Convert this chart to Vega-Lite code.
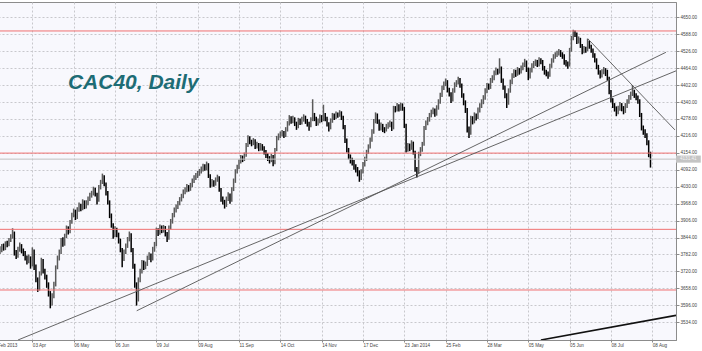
{
  "$schema": "https://vega.github.io/schema/vega-lite/v6.json",
  "autosize": {"type": "none"},
  "padding": {"left": -9, "top": 2, "right": 26, "bottom": 11},
  "width": 685,
  "height": 338,
  "background": "#ffffff",
  "config": {
    "view": {"stroke": "#8c8c8c", "strokeWidth": 1, "fill": "#f8f8fd"},
    "axis": {
      "labelFont": "Liberation Sans", "labelFontSize": 4.6, "labelColor": "#444444",
      "domainColor": "#8c8c8c", "tickColor": "#8c8c8c", "tickSize": 3,
      "gridColor": "#c8c8cc", "gridDash": [2, 2], "gridWidth": 1,
      "labelOverlap": false
    }
  },
  "datasets": {
    "candles": [
{"i":-3,"o":3778,"h":3795,"l":3770,"c":3785},
{"i":-2,"o":3785,"h":3808,"l":3778,"c":3800},
{"i":-1,"o":3800,"h":3810,"l":3782,"c":3792},
{"i":0,"o":3792,"h":3812,"l":3784,"c":3799},
{"i":1,"o":3799,"h":3820,"l":3790,"c":3812},
{"i":2,"o":3812,"h":3822,"l":3796,"c":3805},
{"i":3,"o":3805,"h":3830,"l":3798,"c":3822},
{"i":4,"o":3822,"h":3832,"l":3808,"c":3818},
{"i":5,"o":3818,"h":3842,"l":3812,"c":3836},
{"i":6,"o":3836,"h":3856,"l":3828,"c":3845},
{"i":7,"o":3845,"h":3878,"l":3840,"c":3862},
{"i":8,"o":3862,"h":3866,"l":3778,"c":3785},
{"i":9,"o":3785,"h":3798,"l":3765,"c":3776},
{"i":10,"o":3776,"h":3810,"l":3770,"c":3800},
{"i":11,"o":3800,"h":3826,"l":3792,"c":3815},
{"i":12,"o":3815,"h":3820,"l":3786,"c":3794},
{"i":13,"o":3794,"h":3804,"l":3776,"c":3788},
{"i":14,"o":3788,"h":3795,"l":3760,"c":3770},
{"i":15,"o":3770,"h":3778,"l":3745,"c":3758},
{"i":16,"o":3758,"h":3782,"l":3750,"c":3770},
{"i":17,"o":3770,"h":3775,"l":3730,"c":3742},
{"i":18,"o":3742,"h":3808,"l":3738,"c":3797},
{"i":19,"o":3797,"h":3800,"l":3725,"c":3738},
{"i":20,"o":3738,"h":3745,"l":3680,"c":3690},
{"i":21,"o":3690,"h":3698,"l":3645,"c":3655},
{"i":22,"o":3655,"h":3720,"l":3650,"c":3712},
{"i":23,"o":3712,"h":3770,"l":3705,"c":3760},
{"i":24,"o":3760,"h":3765,"l":3712,"c":3722},
{"i":25,"o":3722,"h":3730,"l":3690,"c":3700},
{"i":26,"o":3700,"h":3708,"l":3660,"c":3672},
{"i":27,"o":3672,"h":3680,"l":3628,"c":3640},
{"i":28,"o":3640,"h":3648,"l":3585,"c":3602},
{"i":29,"o":3602,"h":3640,"l":3595,"c":3630},
{"i":30,"o":3630,"h":3682,"l":3622,"c":3672},
{"i":31,"o":3672,"h":3742,"l":3665,"c":3735},
{"i":32,"o":3735,"h":3778,"l":3728,"c":3768},
{"i":33,"o":3768,"h":3800,"l":3760,"c":3790},
{"i":34,"o":3790,"h":3842,"l":3784,"c":3833},
{"i":35,"o":3833,"h":3845,"l":3810,"c":3820},
{"i":36,"o":3820,"h":3858,"l":3814,"c":3850},
{"i":37,"o":3850,"h":3888,"l":3842,"c":3878},
{"i":38,"o":3878,"h":3885,"l":3855,"c":3865},
{"i":39,"o":3865,"h":3908,"l":3860,"c":3900},
{"i":40,"o":3900,"h":3935,"l":3894,"c":3926},
{"i":41,"o":3926,"h":3950,"l":3918,"c":3940},
{"i":42,"o":3940,"h":3946,"l":3908,"c":3918},
{"i":43,"o":3918,"h":3955,"l":3912,"c":3945},
{"i":44,"o":3945,"h":3972,"l":3938,"c":3962},
{"i":45,"o":3962,"h":3968,"l":3940,"c":3950},
{"i":46,"o":3950,"h":3984,"l":3944,"c":3975},
{"i":47,"o":3975,"h":3980,"l":3948,"c":3958},
{"i":48,"o":3958,"h":3980,"l":3950,"c":3970},
{"i":49,"o":3970,"h":3994,"l":3962,"c":3984},
{"i":50,"o":3984,"h":4008,"l":3978,"c":3998},
{"i":51,"o":3998,"h":4015,"l":3990,"c":4005},
{"i":52,"o":4005,"h":4030,"l":3998,"c":4020},
{"i":53,"o":4020,"h":4026,"l":3994,"c":4002},
{"i":54,"o":4002,"h":4008,"l":3965,"c":3978},
{"i":55,"o":3978,"h":4036,"l":3975,"c":4028},
{"i":56,"o":4028,"h":4055,"l":4020,"c":4045},
{"i":57,"o":4045,"h":4078,"l":4040,"c":4066},
{"i":58,"o":4066,"h":4072,"l":4032,"c":4040},
{"i":59,"o":4040,"h":4045,"l":3998,"c":4008},
{"i":60,"o":4008,"h":4014,"l":3965,"c":3975},
{"i":61,"o":3975,"h":3980,"l":3915,"c":3925},
{"i":62,"o":3925,"h":3932,"l":3880,"c":3890},
{"i":63,"o":3890,"h":3896,"l":3840,"c":3852},
{"i":64,"o":3852,"h":3885,"l":3845,"c":3874},
{"i":65,"o":3874,"h":3880,"l":3845,"c":3855},
{"i":66,"o":3855,"h":3862,"l":3822,"c":3833},
{"i":67,"o":3833,"h":3840,"l":3790,"c":3800},
{"i":68,"o":3800,"h":3806,"l":3735,"c":3765},
{"i":69,"o":3765,"h":3800,"l":3758,"c":3790},
{"i":70,"o":3790,"h":3822,"l":3784,"c":3812},
{"i":71,"o":3812,"h":3846,"l":3806,"c":3838},
{"i":72,"o":3838,"h":3866,"l":3830,"c":3856},
{"i":73,"o":3856,"h":3860,"l":3790,"c":3800},
{"i":74,"o":3800,"h":3806,"l":3730,"c":3742},
{"i":75,"o":3742,"h":3748,"l":3660,"c":3672},
{"i":76,"o":3672,"h":3680,"l":3595,"c":3615},
{"i":77,"o":3615,"h":3698,"l":3610,"c":3688},
{"i":78,"o":3688,"h":3730,"l":3680,"c":3720},
{"i":79,"o":3720,"h":3762,"l":3712,"c":3754},
{"i":80,"o":3754,"h":3760,"l":3725,"c":3735},
{"i":81,"o":3735,"h":3756,"l":3728,"c":3746},
{"i":82,"o":3746,"h":3778,"l":3740,"c":3770},
{"i":83,"o":3770,"h":3790,"l":3762,"c":3780},
{"i":84,"o":3780,"h":3786,"l":3754,"c":3765},
{"i":85,"o":3765,"h":3810,"l":3760,"c":3800},
{"i":86,"o":3800,"h":3828,"l":3792,"c":3818},
{"i":87,"o":3818,"h":3880,"l":3812,"c":3870},
{"i":88,"o":3870,"h":3878,"l":3850,"c":3860},
{"i":89,"o":3860,"h":3892,"l":3854,"c":3882},
{"i":90,"o":3882,"h":3888,"l":3860,"c":3870},
{"i":91,"o":3870,"h":3890,"l":3862,"c":3880},
{"i":92,"o":3880,"h":3886,"l":3848,"c":3858},
{"i":93,"o":3858,"h":3864,"l":3828,"c":3842},
{"i":94,"o":3842,"h":3888,"l":3836,"c":3880},
{"i":95,"o":3880,"h":3912,"l":3874,"c":3902},
{"i":96,"o":3902,"h":3934,"l":3895,"c":3925},
{"i":97,"o":3925,"h":3954,"l":3918,"c":3944},
{"i":98,"o":3944,"h":3965,"l":3936,"c":3955},
{"i":99,"o":3955,"h":3978,"l":3948,"c":3970},
{"i":100,"o":3970,"h":3992,"l":3962,"c":3983},
{"i":101,"o":3983,"h":4004,"l":3976,"c":3995},
{"i":102,"o":3995,"h":4020,"l":3988,"c":4010},
{"i":103,"o":4010,"h":4028,"l":4002,"c":4018},
{"i":104,"o":4018,"h":4040,"l":4010,"c":4030},
{"i":105,"o":4030,"h":4036,"l":4012,"c":4022},
{"i":106,"o":4022,"h":4044,"l":4015,"c":4034},
{"i":107,"o":4034,"h":4060,"l":4028,"c":4050},
{"i":108,"o":4050,"h":4072,"l":4044,"c":4062},
{"i":109,"o":4062,"h":4080,"l":4055,"c":4070},
{"i":110,"o":4070,"h":4088,"l":4062,"c":4078},
{"i":111,"o":4078,"h":4095,"l":4070,"c":4085},
{"i":112,"o":4085,"h":4104,"l":4078,"c":4093},
{"i":113,"o":4093,"h":4114,"l":4086,"c":4104},
{"i":114,"o":4104,"h":4112,"l":4088,"c":4098},
{"i":115,"o":4098,"h":4122,"l":4090,"c":4112},
{"i":116,"o":4112,"h":4116,"l":4062,"c":4070},
{"i":117,"o":4070,"h":4076,"l":4026,"c":4036},
{"i":118,"o":4036,"h":4058,"l":4030,"c":4048},
{"i":119,"o":4048,"h":4054,"l":4030,"c":4040},
{"i":120,"o":4040,"h":4064,"l":4034,"c":4055},
{"i":121,"o":4055,"h":4074,"l":4048,"c":4064},
{"i":122,"o":4064,"h":4068,"l":4012,"c":4020},
{"i":123,"o":4020,"h":4025,"l":3975,"c":3985},
{"i":124,"o":3985,"h":3994,"l":3965,"c":3975},
{"i":125,"o":3975,"h":3982,"l":3950,"c":3962},
{"i":126,"o":3962,"h":3994,"l":3956,"c":3985},
{"i":127,"o":3985,"h":4010,"l":3978,"c":4000},
{"i":128,"o":4000,"h":4005,"l":3968,"c":3980},
{"i":129,"o":3980,"h":4028,"l":3975,"c":4020},
{"i":130,"o":4020,"h":4060,"l":4014,"c":4050},
{"i":131,"o":4050,"h":4094,"l":4044,"c":4085},
{"i":132,"o":4085,"h":4110,"l":4078,"c":4100},
{"i":133,"o":4100,"h":4130,"l":4094,"c":4122},
{"i":134,"o":4122,"h":4146,"l":4115,"c":4136},
{"i":135,"o":4136,"h":4144,"l":4120,"c":4130},
{"i":136,"o":4130,"h":4155,"l":4124,"c":4145},
{"i":137,"o":4145,"h":4190,"l":4140,"c":4180},
{"i":138,"o":4180,"h":4218,"l":4175,"c":4210},
{"i":139,"o":4210,"h":4215,"l":4185,"c":4195},
{"i":140,"o":4195,"h":4202,"l":4178,"c":4190},
{"i":141,"o":4190,"h":4208,"l":4182,"c":4198},
{"i":142,"o":4198,"h":4204,"l":4168,"c":4178},
{"i":143,"o":4178,"h":4195,"l":4170,"c":4185},
{"i":144,"o":4185,"h":4190,"l":4160,"c":4170},
{"i":145,"o":4170,"h":4190,"l":4162,"c":4180},
{"i":146,"o":4180,"h":4186,"l":4162,"c":4172},
{"i":147,"o":4172,"h":4178,"l":4148,"c":4158},
{"i":148,"o":4158,"h":4164,"l":4135,"c":4145},
{"i":149,"o":4145,"h":4152,"l":4124,"c":4135},
{"i":150,"o":4135,"h":4142,"l":4115,"c":4128},
{"i":151,"o":4128,"h":4150,"l":4120,"c":4140},
{"i":152,"o":4140,"h":4146,"l":4105,"c":4118},
{"i":153,"o":4118,"h":4172,"l":4112,"c":4165},
{"i":154,"o":4165,"h":4216,"l":4160,"c":4208},
{"i":155,"o":4208,"h":4225,"l":4200,"c":4215},
{"i":156,"o":4215,"h":4232,"l":4208,"c":4222},
{"i":157,"o":4222,"h":4238,"l":4214,"c":4228},
{"i":158,"o":4228,"h":4234,"l":4208,"c":4218},
{"i":159,"o":4218,"h":4248,"l":4212,"c":4238},
{"i":160,"o":4238,"h":4270,"l":4232,"c":4260},
{"i":161,"o":4260,"h":4292,"l":4254,"c":4282},
{"i":162,"o":4282,"h":4288,"l":4260,"c":4270},
{"i":163,"o":4270,"h":4290,"l":4262,"c":4278},
{"i":164,"o":4278,"h":4284,"l":4252,"c":4262},
{"i":165,"o":4262,"h":4268,"l":4238,"c":4250},
{"i":166,"o":4250,"h":4282,"l":4244,"c":4272},
{"i":167,"o":4272,"h":4280,"l":4256,"c":4266},
{"i":168,"o":4266,"h":4286,"l":4258,"c":4276},
{"i":169,"o":4276,"h":4295,"l":4268,"c":4284},
{"i":170,"o":4284,"h":4290,"l":4260,"c":4270},
{"i":171,"o":4270,"h":4278,"l":4250,"c":4262},
{"i":172,"o":4262,"h":4268,"l":4235,"c":4255},
{"i":173,"o":4255,"h":4284,"l":4248,"c":4275},
{"i":174,"o":4275,"h":4350,"l":4270,"c":4295},
{"i":175,"o":4295,"h":4300,"l":4270,"c":4280},
{"i":176,"o":4280,"h":4286,"l":4252,"c":4262},
{"i":177,"o":4262,"h":4280,"l":4254,"c":4270},
{"i":178,"o":4270,"h":4294,"l":4262,"c":4285},
{"i":179,"o":4285,"h":4292,"l":4266,"c":4276},
{"i":180,"o":4276,"h":4330,"l":4270,"c":4294},
{"i":181,"o":4294,"h":4300,"l":4270,"c":4280},
{"i":182,"o":4280,"h":4286,"l":4250,"c":4260},
{"i":183,"o":4260,"h":4266,"l":4232,"c":4245},
{"i":184,"o":4245,"h":4280,"l":4240,"c":4270},
{"i":185,"o":4270,"h":4300,"l":4264,"c":4290},
{"i":186,"o":4290,"h":4298,"l":4274,"c":4284},
{"i":187,"o":4284,"h":4305,"l":4278,"c":4295},
{"i":188,"o":4295,"h":4302,"l":4282,"c":4292},
{"i":189,"o":4292,"h":4310,"l":4286,"c":4300},
{"i":190,"o":4300,"h":4306,"l":4274,"c":4284},
{"i":191,"o":4284,"h":4290,"l":4240,"c":4250},
{"i":192,"o":4250,"h":4256,"l":4190,"c":4200},
{"i":193,"o":4200,"h":4206,"l":4155,"c":4165},
{"i":194,"o":4165,"h":4172,"l":4130,"c":4140},
{"i":195,"o":4140,"h":4148,"l":4115,"c":4128},
{"i":196,"o":4128,"h":4136,"l":4108,"c":4120},
{"i":197,"o":4120,"h":4128,"l":4092,"c":4105},
{"i":198,"o":4105,"h":4112,"l":4082,"c":4095},
{"i":199,"o":4095,"h":4102,"l":4068,"c":4082},
{"i":200,"o":4082,"h":4090,"l":4048,"c":4062},
{"i":201,"o":4062,"h":4094,"l":4055,"c":4085},
{"i":202,"o":4085,"h":4120,"l":4078,"c":4110},
{"i":203,"o":4110,"h":4140,"l":4104,"c":4130},
{"i":204,"o":4130,"h":4165,"l":4124,"c":4156},
{"i":205,"o":4156,"h":4185,"l":4150,"c":4175},
{"i":206,"o":4175,"h":4210,"l":4170,"c":4200},
{"i":207,"o":4200,"h":4240,"l":4195,"c":4230},
{"i":208,"o":4230,"h":4278,"l":4224,"c":4268},
{"i":209,"o":4268,"h":4302,"l":4262,"c":4292},
{"i":210,"o":4292,"h":4298,"l":4260,"c":4270},
{"i":211,"o":4270,"h":4276,"l":4235,"c":4245},
{"i":212,"o":4245,"h":4265,"l":4236,"c":4255},
{"i":213,"o":4255,"h":4260,"l":4230,"c":4240},
{"i":214,"o":4240,"h":4248,"l":4226,"c":4238},
{"i":215,"o":4238,"h":4260,"l":4232,"c":4250},
{"i":216,"o":4250,"h":4266,"l":4242,"c":4256},
{"i":217,"o":4256,"h":4272,"l":4248,"c":4262},
{"i":218,"o":4262,"h":4268,"l":4234,"c":4244},
{"i":219,"o":4244,"h":4326,"l":4240,"c":4318},
{"i":220,"o":4318,"h":4325,"l":4302,"c":4312},
{"i":221,"o":4312,"h":4336,"l":4305,"c":4326},
{"i":222,"o":4326,"h":4332,"l":4305,"c":4315},
{"i":223,"o":4315,"h":4338,"l":4308,"c":4330},
{"i":224,"o":4330,"h":4335,"l":4308,"c":4318},
{"i":225,"o":4318,"h":4322,"l":4245,"c":4255},
{"i":226,"o":4255,"h":4260,"l":4155,"c":4165},
{"i":227,"o":4165,"h":4190,"l":4158,"c":4180},
{"i":228,"o":4180,"h":4188,"l":4160,"c":4172},
{"i":229,"o":4172,"h":4200,"l":4165,"c":4190},
{"i":230,"o":4190,"h":4195,"l":4148,"c":4158},
{"i":231,"o":4158,"h":4162,"l":4085,"c":4095},
{"i":232,"o":4095,"h":4102,"l":4064,"c":4080},
{"i":233,"o":4080,"h":4158,"l":4076,"c":4150},
{"i":234,"o":4150,"h":4175,"l":4142,"c":4165},
{"i":235,"o":4165,"h":4194,"l":4158,"c":4184},
{"i":236,"o":4184,"h":4252,"l":4180,"c":4244},
{"i":237,"o":4244,"h":4272,"l":4238,"c":4262},
{"i":238,"o":4262,"h":4285,"l":4255,"c":4275},
{"i":239,"o":4275,"h":4300,"l":4268,"c":4290},
{"i":240,"o":4290,"h":4312,"l":4284,"c":4302},
{"i":241,"o":4302,"h":4320,"l":4295,"c":4310},
{"i":242,"o":4310,"h":4316,"l":4286,"c":4296},
{"i":243,"o":4296,"h":4328,"l":4290,"c":4318},
{"i":244,"o":4318,"h":4350,"l":4312,"c":4340},
{"i":245,"o":4340,"h":4374,"l":4334,"c":4365},
{"i":246,"o":4365,"h":4400,"l":4358,"c":4390},
{"i":247,"o":4390,"h":4415,"l":4384,"c":4405},
{"i":248,"o":4405,"h":4426,"l":4398,"c":4414},
{"i":249,"o":4414,"h":4420,"l":4375,"c":4385},
{"i":250,"o":4385,"h":4392,"l":4360,"c":4370},
{"i":251,"o":4370,"h":4376,"l":4336,"c":4348},
{"i":252,"o":4348,"h":4390,"l":4342,"c":4380},
{"i":253,"o":4380,"h":4412,"l":4374,"c":4402},
{"i":254,"o":4402,"h":4420,"l":4395,"c":4410},
{"i":255,"o":4410,"h":4432,"l":4404,"c":4422},
{"i":256,"o":4422,"h":4428,"l":4392,"c":4402},
{"i":257,"o":4402,"h":4408,"l":4356,"c":4366},
{"i":258,"o":4366,"h":4372,"l":4328,"c":4340},
{"i":259,"o":4340,"h":4346,"l":4300,"c":4312},
{"i":260,"o":4312,"h":4318,"l":4228,"c":4240},
{"i":261,"o":4240,"h":4250,"l":4208,"c":4225},
{"i":262,"o":4225,"h":4290,"l":4220,"c":4282},
{"i":263,"o":4282,"h":4288,"l":4258,"c":4270},
{"i":264,"o":4270,"h":4302,"l":4262,"c":4292},
{"i":265,"o":4292,"h":4298,"l":4272,"c":4285},
{"i":266,"o":4285,"h":4320,"l":4278,"c":4310},
{"i":267,"o":4310,"h":4335,"l":4302,"c":4325},
{"i":268,"o":4325,"h":4350,"l":4318,"c":4340},
{"i":269,"o":4340,"h":4365,"l":4332,"c":4355},
{"i":270,"o":4355,"h":4390,"l":4348,"c":4380},
{"i":271,"o":4380,"h":4410,"l":4372,"c":4400},
{"i":272,"o":4400,"h":4408,"l":4385,"c":4395},
{"i":273,"o":4395,"h":4428,"l":4388,"c":4418},
{"i":274,"o":4418,"h":4438,"l":4410,"c":4428},
{"i":275,"o":4428,"h":4455,"l":4420,"c":4445},
{"i":276,"o":4445,"h":4466,"l":4438,"c":4456},
{"i":277,"o":4456,"h":4462,"l":4440,"c":4450},
{"i":278,"o":4450,"h":4500,"l":4444,"c":4465},
{"i":279,"o":4465,"h":4470,"l":4410,"c":4420},
{"i":280,"o":4420,"h":4426,"l":4385,"c":4395},
{"i":281,"o":4395,"h":4400,"l":4354,"c":4366},
{"i":282,"o":4366,"h":4372,"l":4318,"c":4335},
{"i":283,"o":4335,"h":4390,"l":4330,"c":4380},
{"i":284,"o":4380,"h":4422,"l":4374,"c":4412},
{"i":285,"o":4412,"h":4445,"l":4405,"c":4435},
{"i":286,"o":4435,"h":4460,"l":4428,"c":4450},
{"i":287,"o":4450,"h":4458,"l":4432,"c":4442},
{"i":288,"o":4442,"h":4468,"l":4436,"c":4458},
{"i":289,"o":4458,"h":4464,"l":4440,"c":4450},
{"i":290,"o":4450,"h":4474,"l":4444,"c":4464},
{"i":291,"o":4464,"h":4485,"l":4456,"c":4475},
{"i":292,"o":4475,"h":4498,"l":4468,"c":4486},
{"i":293,"o":4486,"h":4492,"l":4450,"c":4460},
{"i":294,"o":4460,"h":4466,"l":4420,"c":4432},
{"i":295,"o":4432,"h":4465,"l":4426,"c":4455},
{"i":296,"o":4455,"h":4482,"l":4448,"c":4472},
{"i":297,"o":4472,"h":4490,"l":4464,"c":4480},
{"i":298,"o":4480,"h":4496,"l":4472,"c":4486},
{"i":299,"o":4486,"h":4494,"l":4468,"c":4478},
{"i":300,"o":4478,"h":4504,"l":4470,"c":4494},
{"i":301,"o":4494,"h":4500,"l":4478,"c":4488},
{"i":302,"o":4488,"h":4494,"l":4455,"c":4465},
{"i":303,"o":4465,"h":4472,"l":4440,"c":4450},
{"i":304,"o":4450,"h":4458,"l":4434,"c":4445},
{"i":305,"o":4445,"h":4452,"l":4425,"c":4438},
{"i":306,"o":4438,"h":4480,"l":4432,"c":4472},
{"i":307,"o":4472,"h":4500,"l":4465,"c":4490},
{"i":308,"o":4490,"h":4515,"l":4484,"c":4505},
{"i":309,"o":4505,"h":4522,"l":4498,"c":4512},
{"i":310,"o":4512,"h":4528,"l":4505,"c":4518},
{"i":311,"o":4518,"h":4534,"l":4510,"c":4524},
{"i":312,"o":4524,"h":4530,"l":4505,"c":4515},
{"i":313,"o":4515,"h":4522,"l":4498,"c":4510},
{"i":314,"o":4510,"h":4515,"l":4476,"c":4486},
{"i":315,"o":4486,"h":4494,"l":4470,"c":4480},
{"i":316,"o":4480,"h":4488,"l":4462,"c":4474},
{"i":317,"o":4474,"h":4538,"l":4470,"c":4530},
{"i":318,"o":4530,"h":4582,"l":4524,"c":4572},
{"i":319,"o":4572,"h":4604,"l":4566,"c":4592},
{"i":320,"o":4592,"h":4602,"l":4578,"c":4590},
{"i":321,"o":4590,"h":4594,"l":4552,"c":4562},
{"i":322,"o":4562,"h":4580,"l":4554,"c":4570},
{"i":323,"o":4570,"h":4575,"l":4538,"c":4548},
{"i":324,"o":4548,"h":4552,"l":4515,"c":4525},
{"i":325,"o":4525,"h":4545,"l":4518,"c":4535},
{"i":326,"o":4535,"h":4542,"l":4520,"c":4530},
{"i":327,"o":4530,"h":4572,"l":4526,"c":4558},
{"i":328,"o":4558,"h":4564,"l":4535,"c":4545},
{"i":329,"o":4545,"h":4550,"l":4520,"c":4530},
{"i":330,"o":4530,"h":4536,"l":4502,"c":4512},
{"i":331,"o":4512,"h":4518,"l":4485,"c":4495},
{"i":332,"o":4495,"h":4500,"l":4460,"c":4470},
{"i":333,"o":4470,"h":4476,"l":4440,"c":4450},
{"i":334,"o":4450,"h":4456,"l":4426,"c":4438},
{"i":335,"o":4438,"h":4460,"l":4430,"c":4450},
{"i":336,"o":4450,"h":4468,"l":4442,"c":4458},
{"i":337,"o":4458,"h":4464,"l":4435,"c":4445},
{"i":338,"o":4445,"h":4458,"l":4418,"c":4428},
{"i":339,"o":4428,"h":4432,"l":4368,"c":4378},
{"i":340,"o":4378,"h":4384,"l":4338,"c":4348},
{"i":341,"o":4348,"h":4354,"l":4318,"c":4330},
{"i":342,"o":4330,"h":4336,"l":4305,"c":4318},
{"i":343,"o":4318,"h":4324,"l":4288,"c":4302},
{"i":344,"o":4302,"h":4326,"l":4295,"c":4315},
{"i":345,"o":4315,"h":4340,"l":4308,"c":4330},
{"i":346,"o":4330,"h":4336,"l":4306,"c":4318},
{"i":347,"o":4318,"h":4325,"l":4295,"c":4308},
{"i":348,"o":4308,"h":4336,"l":4300,"c":4325},
{"i":349,"o":4325,"h":4350,"l":4318,"c":4340},
{"i":350,"o":4340,"h":4366,"l":4334,"c":4355},
{"i":351,"o":4355,"h":4378,"l":4348,"c":4368},
{"i":352,"o":4368,"h":4402,"l":4362,"c":4378},
{"i":353,"o":4378,"h":4385,"l":4355,"c":4365},
{"i":354,"o":4365,"h":4372,"l":4346,"c":4358},
{"i":355,"o":4358,"h":4364,"l":4334,"c":4346},
{"i":356,"o":4346,"h":4350,"l":4285,"c":4295},
{"i":357,"o":4295,"h":4300,"l":4236,"c":4246},
{"i":358,"o":4246,"h":4254,"l":4220,"c":4232},
{"i":359,"o":4232,"h":4240,"l":4208,"c":4220},
{"i":360,"o":4220,"h":4226,"l":4182,"c":4195},
{"i":361,"o":4195,"h":4200,"l":4138,"c":4150},
{"i":362,"o":4150,"h":4158,"l":4100,"c":4131}
    ],
    "levels": [{"p": 4600}, {"p": 4153}, {"p": 3874}, {"p": 3652}],
    "current": [{"p": 4131, "i": 376.2, "i2": 390, "lo": 4118, "hi": 4144, "t": "4131.41"}],
    "trend": [
      {"i": 10.0, "p": 3469, "i2": 376.2, "p2": 4454},
      {"i": 76.1, "p": 3576, "i2": 370.6, "p2": 4522},
      {"i": 327.2, "p": 4571, "i2": 375.6, "p2": 4238}
    ],
    "channel": [{"i": 301.0, "p": 3469, "i2": 376.2, "p2": 3559}],
    "caption": [{"i": 37.8, "p": 4388, "t": "CAC40, Daily"}]
  },
  "layer": [
    {
      "data": {"name": "candles"},
      "mark": {"type": "rule", "strokeWidth": 1.5},
      "encoding": {
        "x": {
          "field": "i", "type": "quantitative", "title": null,
          "scale": {"domain": [-5, 376.2], "nice": false, "zero": false},
          "axis": {
            "orient": "bottom",
            "values": [-1.4, 18, 41, 64, 87, 110, 133, 156, 179, 202, 225, 248, 271, 294, 317, 340, 363],
            "tickCount": 40,
            "labelExpr": "datum.value < 0 ? 'Feb 2013' : ['03 Apr','06 May','06 Jun','09 Jul','09 Aug','11 Sep','14 Oct','14 Nov','17 Dec','23 Jan 2014','25 Feb','28 Mar','05 May','05 Jun','08 Jul','08 Aug'][round((datum.value - 18) / 23)]",
            "labelAlign": "left", "labelBaseline": "top", "labelPadding": 0, "tickSize": 2,
            "labelBound": false, "labelFlush": false, "labelOverlap": false,
            "grid": true
          }
        },
        "y": {
          "field": "l", "type": "quantitative", "title": null,
          "scale": {"domain": [3469, 4706], "nice": false, "zero": false},
          "axis": {
            "orient": "right",
            "values": [3534, 3596, 3658, 3720, 3782, 3844, 3906, 3968, 4030, 4092, 4154, 4216, 4278, 4340, 4402, 4464, 4526, 4588, 4650],
            "tickCount": 40,
            "format": ".2f", "labelPadding": 1, "tickSize": 3,
            "labelOverlap": false, "grid": true
          }
        },
        "y2": {"field": "h"},
        "color": {
          "condition": {"test": "datum.c >= datum.o", "value": "#5a5a5a"},
          "value": "#000000"
        }
      }
    },
    {
      "data": {"name": "levels"},
      "mark": {"type": "rule", "color": "#f07070", "strokeWidth": 1},
      "encoding": {"y": {"field": "p", "type": "quantitative", "title": null}}
    },
    {
      "data": {"name": "current"},
      "mark": {"type": "rule", "color": "#c0c0c0", "strokeWidth": 1},
      "encoding": {"y": {"field": "p", "type": "quantitative", "title": null}}
    },
    {
      "data": {"name": "current"},
      "mark": {"type": "rect", "color": "#c4c4c4", "clip": false},
      "encoding": {
        "x": {"field": "i", "type": "quantitative", "title": null},
        "x2": {"field": "i2"},
        "y": {"field": "lo", "type": "quantitative", "title": null},
        "y2": {"field": "hi"}
      }
    },
    {
      "data": {"name": "current"},
      "mark": {"type": "text", "align": "left", "baseline": "middle", "dx": 4, "font": "Liberation Sans", "fontSize": 4.6, "color": "#f4f4f4", "clip": false},
      "encoding": {
        "x": {"field": "i", "type": "quantitative", "title": null},
        "y": {"field": "p", "type": "quantitative", "title": null},
        "text": {"field": "t"}
      }
    },
    {
      "data": {"name": "trend"},
      "mark": {"type": "rule", "color": "#555555", "strokeWidth": 0.9, "clip": true},
      "encoding": {
        "x": {"field": "i", "type": "quantitative", "title": null},
        "x2": {"field": "i2"},
        "y": {"field": "p", "type": "quantitative", "title": null},
        "y2": {"field": "p2"}
      }
    },
    {
      "data": {"name": "channel"},
      "mark": {"type": "rule", "color": "#111111", "strokeWidth": 1.6, "clip": true},
      "encoding": {
        "x": {"field": "i", "type": "quantitative", "title": null},
        "x2": {"field": "i2"},
        "y": {"field": "p", "type": "quantitative", "title": null},
        "y2": {"field": "p2"}
      }
    },
    {
      "data": {"name": "caption"},
      "mark": {"type": "text", "align": "left", "baseline": "alphabetic", "font": "Liberation Sans", "fontSize": 21, "fontStyle": "italic", "fontWeight": "bold", "color": "#1d6c75"},
      "encoding": {
        "x": {"field": "i", "type": "quantitative", "title": null},
        "y": {"field": "p", "type": "quantitative", "title": null},
        "text": {"field": "t"}
      }
    }
  ]
}
